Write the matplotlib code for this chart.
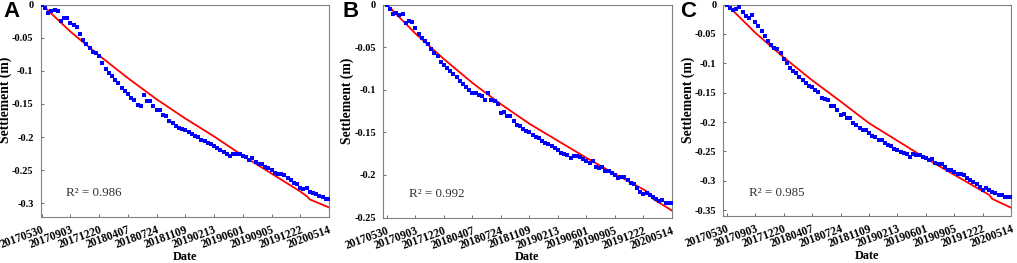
import numpy as np
import matplotlib
matplotlib.use('Agg')
import matplotlib.pyplot as plt
import matplotlib.transforms as mtransforms
from matplotlib.ticker import FuncFormatter

plt.rcParams['font.family'] = ['Liberation Serif', 'DejaVu Serif']
plt.rcParams['axes.unicode_minus'] = False

# acquisition index (12-day interval), tick labels every 9 acquisitions
date_labels = ['20170530', '20170903', '20171220', '20180407', '20180724',
               '20181109', '20190213', '20190601', '20190905', '20191222',
               '20200514']
tick_idx = [0, 9, 18, 27, 36, 45, 54, 63, 72, 81, 90]

# measured settlement (m), one value per acquisition
settle_a = [0, -0.005, -0.013, -0.010, -0.009, -0.010, -0.025, -0.021, -0.021, -0.028,
            -0.031, -0.034, -0.044, -0.053, -0.060, -0.066, -0.072, -0.073, -0.078, -0.088,
            -0.097, -0.104, -0.108, -0.114, -0.119, -0.126, -0.131, -0.135, -0.141, -0.144,
            -0.151, -0.153, -0.136, -0.145, -0.145, -0.153, -0.159, -0.159, -0.166, -0.168,
            -0.176, -0.178, -0.183, -0.186, -0.187, -0.189, -0.193, -0.196, -0.198, -0.200,
            -0.204, -0.206, -0.209, -0.211, -0.214, -0.216, -0.220, -0.223, -0.225, -0.228,
            -0.226, -0.226, -0.226, -0.229, -0.230, -0.234, -0.232, -0.238, -0.241, -0.241,
            -0.245, -0.247, -0.249, -0.254, -0.256, -0.255, -0.257, -0.261, -0.264, -0.269,
            -0.270, -0.277, -0.278, -0.276, -0.282, -0.284, -0.286, -0.289, -0.290, -0.294,
            -0.294]
settle_b = [0, -0.005, -0.011, -0.010, -0.012, -0.011, -0.022, -0.019, -0.020, -0.028,
            -0.035, -0.039, -0.043, -0.046, -0.052, -0.057, -0.060, -0.067, -0.071, -0.075,
            -0.078, -0.082, -0.085, -0.090, -0.093, -0.097, -0.100, -0.104, -0.104, -0.106,
            -0.107, -0.112, -0.104, -0.112, -0.113, -0.117, -0.127, -0.126, -0.131, -0.131,
            -0.137, -0.141, -0.143, -0.146, -0.148, -0.150, -0.153, -0.156, -0.157, -0.160,
            -0.162, -0.164, -0.166, -0.168, -0.171, -0.174, -0.176, -0.177, -0.180, -0.178,
            -0.178, -0.179, -0.181, -0.184, -0.186, -0.184, -0.191, -0.192, -0.191, -0.196,
            -0.196, -0.198, -0.200, -0.204, -0.202, -0.203, -0.206, -0.209, -0.211, -0.215,
            -0.220, -0.222, -0.221, -0.224, -0.226, -0.228, -0.231, -0.230, -0.233, -0.233,
            -0.233]
settle_c = [0, -0.006, -0.010, -0.007, -0.005, -0.012, -0.019, -0.023, -0.018, -0.029,
            -0.036, -0.045, -0.053, -0.062, -0.069, -0.074, -0.075, -0.082, -0.092, -0.099,
            -0.108, -0.113, -0.117, -0.123, -0.128, -0.133, -0.138, -0.141, -0.145, -0.149,
            -0.159, -0.161, -0.163, -0.172, -0.173, -0.179, -0.188, -0.186, -0.193, -0.193,
            -0.201, -0.205, -0.210, -0.213, -0.214, -0.218, -0.223, -0.226, -0.230, -0.231,
            -0.235, -0.239, -0.241, -0.246, -0.247, -0.251, -0.252, -0.255, -0.260, -0.254,
            -0.256, -0.256, -0.260, -0.261, -0.265, -0.263, -0.269, -0.272, -0.272, -0.276,
            -0.281, -0.282, -0.285, -0.289, -0.288, -0.291, -0.296, -0.299, -0.302, -0.306,
            -0.311, -0.316, -0.312, -0.316, -0.319, -0.320, -0.324, -0.324, -0.327, -0.328,
            -0.328]

# fitted curves, read at the tick positions plus the small kink near the end
fit_idx = [0, 9, 18, 27, 36, 45, 54, 63, 72, 81, 83, 84, 90]
fit_a = [0, -0.041, -0.077, -0.111, -0.143, -0.172, -0.199, -0.228, -0.255, -0.282, -0.289, -0.294, -0.306]
fit_b = [0, -0.034, -0.064, -0.092, -0.117, -0.140, -0.160, -0.180, -0.199, -0.217, -0.222, -0.228, -0.242]
fit_c = [0, -0.048, -0.090, -0.129, -0.165, -0.202, -0.232, -0.262, -0.290, -0.318, -0.324, -0.331, -0.346]

r2 = ['0.986', '0.992', '0.985']
panel_names = ['A', 'B', 'C']

W, H = 1017, 263
# axes boxes in pixels: left, right, top, bottom
boxes = [(40.5, 329, 4.5, 216.7), (382.7, 672, 4.5, 217.5), (723.3, 1011.3, 4.5, 216.0)]
ylims = [(-0.32, 0), (-0.25, 0), (-0.36, 0)]
xlefts = [-0.4, -1.3, -1.1]
label_x = [3, 343, 680]

fig = plt.figure(figsize=(W / 100, H / 100), dpi=100)
shift = mtransforms.ScaledTranslation(10 / 100, 0, fig.dpi_scale_trans)

for k, (settle, fit) in enumerate(zip([settle_a, settle_b, settle_c], [fit_a, fit_b, fit_c])):
    l, r, t, b = boxes[k]
    ax = fig.add_axes([l / W, (H - b) / H, (r - l) / W, (b - t) / H])
    x = np.arange(len(settle))
    ax.plot(fit_idx, fit, color='#ff0000', lw=1.3, zorder=2)
    ax.plot(x, settle, 's', color='#0000ff', ms=2.4, mew=0, zorder=3)
    ax.set_xlim(xlefts[k], 90)
    ax.set_ylim(*ylims[k])
    ax.set_yticks(np.arange(0, ylims[k][0] - 0.001, -0.05))
    ax.yaxis.set_major_formatter(FuncFormatter(lambda v, p: '%g' % round(v, 2)))
    ax.set_xticks(tick_idx)
    ax.set_xticklabels(date_labels, rotation=20, ha='right', va='top',
                       rotation_mode='anchor', fontweight='bold', fontsize=8.3)
    for lab in ax.get_xticklabels():
        lab.set_transform(lab.get_transform() + shift)
    for lab in ax.get_yticklabels():
        lab.set_fontweight('bold')
        lab.set_fontsize(7.5)
    ax.tick_params(direction='in', length=2.5, width=0.6, color='#555555')
    ax.tick_params(axis='x', pad=5)
    ax.tick_params(axis='y', pad=5)
    for s in ax.spines.values():
        s.set_color('#808080')
        s.set_linewidth(0.8)
    ax.set_ylabel('Settlement (m)', fontweight='bold', fontsize=9.8)
    ax.yaxis.set_label_coords(-0.098, 0.55)
    ax.set_xlabel('Date', fontweight='bold', fontsize=8.8, labelpad=0)
    ax.text(0.09, 0.11, 'R\u00b2 = ' + r2[k], transform=ax.transAxes, fontsize=9.4,
            color='#333333', va='center')
    fig.text(label_x[k] / W, 1 - 1 / H, panel_names[k], family='Liberation Sans',
             fontweight='bold', fontsize=16, va='top', ha='left')

fig.savefig('out.png', dpi=100)
